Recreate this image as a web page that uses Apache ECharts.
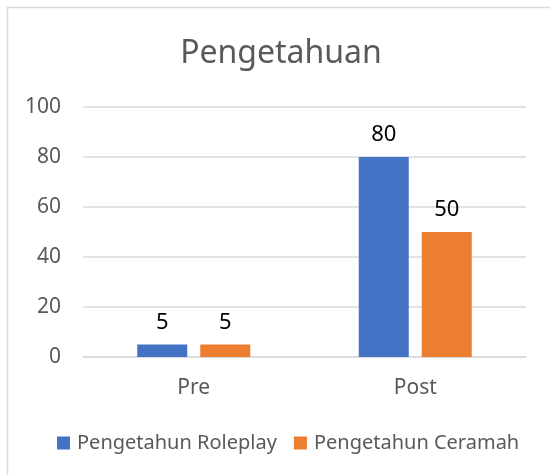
<!DOCTYPE html>
<html>
<head>
<meta charset="utf-8">
<script src="https://cdn.jsdelivr.net/npm/echarts@6/dist/echarts.min.js"></script>
<style>
  html, body { margin: 0; padding: 0; background: #fff; }
  #chart { width: 550px; height: 475px; }
</style>
</head>
<body>
<div id="chart"></div>
<script>
// data
var categories = ["Pre", "Post"];
var roleplay = [5, 80];
var ceramah = [5, 50];
var seriesNames = ["Pengetahun Roleplay", "Pengetahun Ceramah"];
var yTicks = { min: 0, max: 100, interval: 20 };

var font = "'Noto Sans', 'Open Sans', sans-serif";
var gray = "#595959";

var chart = echarts.init(document.getElementById("chart"));
var option = {
  backgroundColor: "#fff",
  animation: false,
  graphic: [
    {
      type: "rect",
      shape: { x: 7.5, y: 7.5, width: 560, height: 500 },
      style: { fill: "none", stroke: "#d9d9d9", lineWidth: 1.5 },
      z: -1
    }
  ],
  title: {
    text: "Pengetahuan",
    left: 276,
    textAlign: "center",
    top: 33,
    textStyle: { color: gray, fontFamily: font, fontSize: 32, fontWeight: "normal" }
  },
  legend: {
    bottom: 17,
    left: 52,
    itemWidth: 13,
    itemHeight: 13,
    itemGap: 17,
    icon: "rect",
    textStyle: { color: gray, fontFamily: font, fontSize: 20, padding: [0, 0, 0, 2] },
    data: seriesNames
  },
  grid: { left: 83, right: 24, top: 107, bottom: 118 },
  xAxis: {
    type: "category",
    data: categories,
    axisLine: { lineStyle: { color: "#d9d9d9", width: 1.5 } },
    axisTick: { show: false },
    axisLabel: { color: gray, fontFamily: font, fontSize: 21, margin: 21 }
  },
  yAxis: {
    type: "value",
    min: yTicks.min,
    max: yTicks.max,
    interval: yTicks.interval,
    axisLine: { show: false },
    axisTick: { show: false },
    splitLine: { lineStyle: { color: "#d9d9d9", width: 1.5 } },
    axisLabel: { color: gray, fontFamily: font, fontSize: 21, margin: 22 }
  },
  series: [
    {
      name: seriesNames[0],
      type: "bar",
      data: roleplay,
      barWidth: 50,
      barGap: "26%",
      itemStyle: { color: "#4472C4" },
      label: { show: true, position: "top", distance: 11, color: "#000", fontFamily: font, fontSize: 22 }
    },
    {
      name: seriesNames[1],
      type: "bar",
      data: ceramah,
      barWidth: 50,
      itemStyle: { color: "#ED7D31" },
      label: { show: true, position: "top", distance: 11, color: "#000", fontFamily: font, fontSize: 22 }
    }
  ]
};
chart.setOption(option);
</script>
</body>
</html>
